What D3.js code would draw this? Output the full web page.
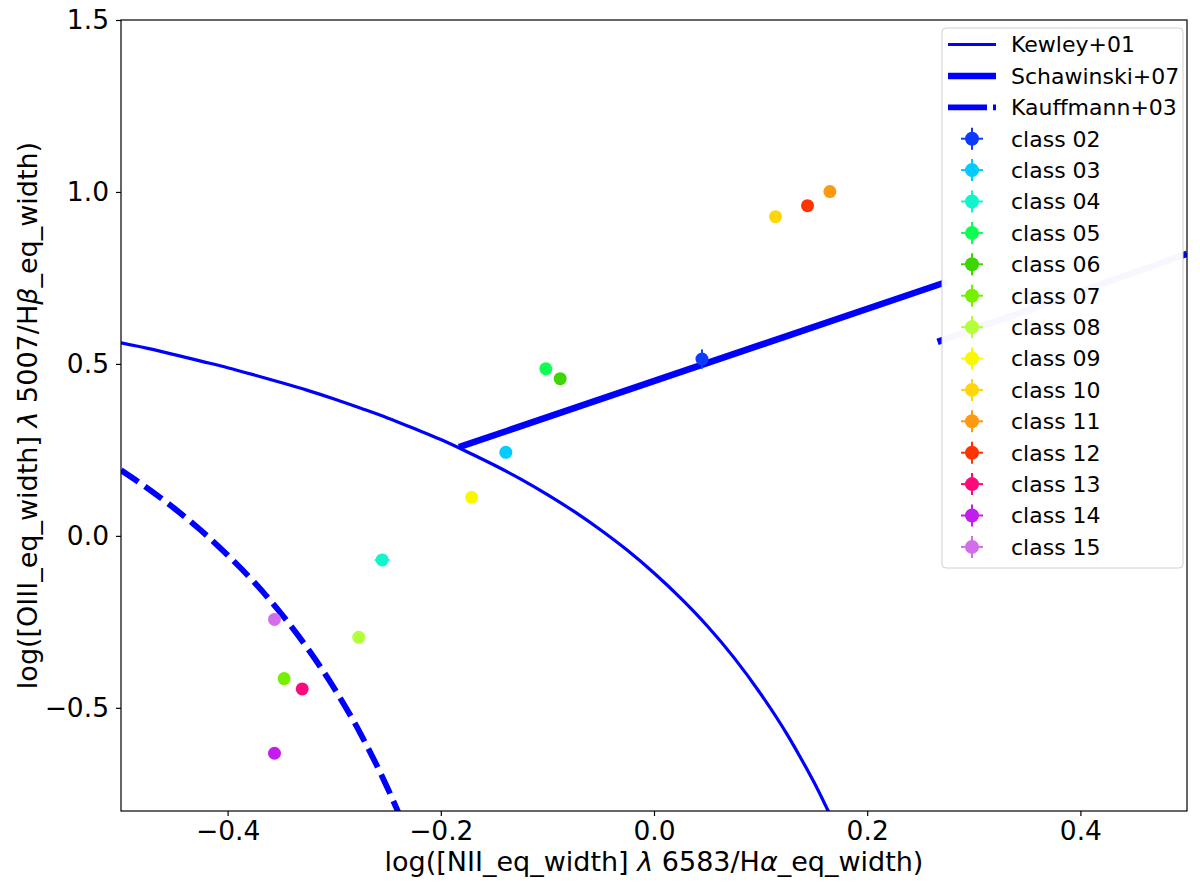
<!DOCTYPE html>
<html>
<head>
<meta charset="utf-8">
<script src="https://cdn.jsdelivr.net/npm/d3@7"></script>
<style>
  body { margin: 0; background: #fff; }
  svg { display: block; font-family: "DejaVu Sans", sans-serif; }
</style>
</head>
<body>
<script>
// point classes
var classNames = ['class 02', 'class 03', 'class 04', 'class 05', 'class 06', 'class 07', 'class 08',
                  'class 09', 'class 10', 'class 11', 'class 12', 'class 13', 'class 14', 'class 15'];
var classColors = ['#0b3bff', '#00ccff', '#10f5cc', '#0dff52', '#3dd600', '#76f000', '#b2ff3a',
                   '#fbf700', '#ffd60a', '#ff9a10', '#ff3300', '#ff0a7a', '#c31cf0', '#d46ceb'];
var classX = [0.045, -0.139, -0.255, -0.1015, -0.088, -0.347, -0.277,
              -0.171, 0.114, 0.165, 0.144, -0.330, -0.356, -0.356];
var classY = [0.514, 0.243, -0.070, 0.486, 0.457, -0.415, -0.295,
              0.112, 0.928, 1.001, 0.960, -0.445, -0.632, -0.243];
var classXErr = [0, 0, 0.007, 0, 0, 0, 0, 0, 0, 0, 0, 0, 0, 0];
var classYErr = [0.028, 0, 0, 0, 0, 0, 0, 0, 0, 0, 0, 0, 0, 0];

// demarcation lines
var kewleyX = [-0.5, -0.475, -0.45, -0.425, -0.4, -0.375, -0.35, -0.325, -0.3, -0.275, -0.25, -0.225,
               -0.2, -0.175, -0.15, -0.125, -0.1, -0.075, -0.05, -0.025, 0.0, 0.025, 0.05, 0.075,
               0.1, 0.125, 0.1375, 0.15, 0.16, 0.165];
var kewleyY = [0.561, 0.545, 0.527, 0.508, 0.489, 0.468, 0.446, 0.423, 0.398, 0.371, 0.343, 0.312,
               0.280, 0.244, 0.206, 0.165, 0.120, 0.071, 0.017, -0.042, -0.108, -0.181, -0.262, -0.354,
               -0.459, -0.578, -0.645, -0.716, -0.778, -0.81];
var schawX = [-0.183, 0.275];
var schawY = [0.258, 0.739];
var kauffX = [-0.5, -0.475, -0.45, -0.425, -0.4, -0.375, -0.35, -0.325, -0.3, -0.275, -0.25, -0.24];
var kauffY = [0.191, 0.138, 0.080, 0.016, -0.056, -0.135, -0.225, -0.327, -0.443, -0.577, -0.733, -0.803];
// short segment seen at the legend edges
var hiddenX = [0.266, 0.5];
var hiddenY = [0.564, 0.82];

var xTicks = [-0.4, -0.2, 0.0, 0.2, 0.4];
var yTicks = [-0.5, 0.0, 0.5, 1.0, 1.5];

(function(){
'use strict';

var W = 1200, H = 888;
var mLeft = 121, mRight = 1187, mTop = 20, mBottom = 811;

var svg = d3.select('body').append('svg')
            .attr('width', W)
            .attr('height', H);

var x = d3.scaleLinear().domain([-0.5, 0.5]).range([mLeft, mRight]);
var y = d3.scaleLinear().domain([-0.8, 1.5]).range([mBottom, mTop]);

svg.append('clipPath').attr('id', 'clip')
   .append('rect')
   .attr('x', mLeft).attr('y', mTop)
   .attr('width', mRight - mLeft).attr('height', mBottom - mTop);

var plot = svg.append('g').attr('clip-path', 'url(#clip)');

function pairs(xs, ys){
	return xs.map(function(v, i){ return [v, ys[i]]; });
}

var line = d3.line()
             .curve(d3.curveMonotoneX)
             .x(function(d){ return x(d[0]); })
             .y(function(d){ return y(d[1]); });

plot.append('path')
    .attr('d', line(pairs(hiddenX, hiddenY)))
    .attr('fill', 'none').attr('stroke', '#0000ff').attr('stroke-width', 6.5);

plot.append('path')
    .attr('d', line(pairs(kewleyX, kewleyY)))
    .attr('fill', 'none').attr('stroke', '#0000ff').attr('stroke-width', 3.2);

plot.append('path')
    .attr('d', line(pairs(schawX, schawY)))
    .attr('fill', 'none').attr('stroke', '#0000ff').attr('stroke-width', 6.5);

plot.append('path')
    .attr('d', line(pairs(kauffX, kauffY)))
    .attr('fill', 'none').attr('stroke', '#0000ff').attr('stroke-width', 5.8)
    .attr('stroke-dasharray', '21,8');

// points with error bars
var pts = plot.selectAll('g.pt')
              .data(classNames.map(function(n, i){
	              return {name: n, color: classColors[i], x: classX[i], y: classY[i], xe: classXErr[i], ye: classYErr[i]};
              }))
              .enter().append('g').attr('class', 'pt');

pts.append('line')
   .attr('x1', function(d){ return x(d.x - d.xe); })
   .attr('x2', function(d){ return x(d.x + d.xe); })
   .attr('y1', function(d){ return y(d.y); })
   .attr('y2', function(d){ return y(d.y); })
   .attr('stroke', function(d){ return d.color; }).attr('stroke-width', 2);
pts.append('line')
   .attr('x1', function(d){ return x(d.x); })
   .attr('x2', function(d){ return x(d.x); })
   .attr('y1', function(d){ return y(d.y - d.ye); })
   .attr('y2', function(d){ return y(d.y + d.ye); })
   .attr('stroke', function(d){ return d.color; }).attr('stroke-width', 2);
pts.append('circle')
   .attr('cx', function(d){ return x(d.x); })
   .attr('cy', function(d){ return y(d.y); })
   .attr('r', 6.5)
   .attr('fill', function(d){ return d.color; });

// axes
var fmt = d3.format('.1f');
var xAxis = svg.append('g')
               .attr('transform', 'translate(0,' + mBottom + ')')
               .call(d3.axisBottom(x).tickValues(xTicks).tickFormat(fmt).tickSize(5).tickPadding(5));
var yAxis = svg.append('g')
               .attr('transform', 'translate(' + mLeft + ',0)')
               .call(d3.axisLeft(y).tickValues(yTicks).tickFormat(fmt).tickSize(5).tickPadding(7));

[xAxis, yAxis].forEach(function(a){
	a.select('.domain').remove();
	a.selectAll('line').attr('stroke', '#000').attr('stroke-width', 1.2);
	a.selectAll('text').attr('font-size', 26.5).attr('fill', '#000')
	 .attr('font-family', '"DejaVu Sans", sans-serif');
});

svg.append('rect')
   .attr('x', mLeft).attr('y', mTop)
   .attr('width', mRight - mLeft).attr('height', mBottom - mTop)
   .attr('fill', 'none').attr('stroke', '#000').attr('stroke-width', 1.2);

// axis labels
var xl = svg.append('text')
            .attr('x', (mLeft + mRight) / 2).attr('y', 871)
            .attr('text-anchor', 'middle').attr('font-size', 27);
xl.append('tspan').text('log([NII_eq_width] ');
xl.append('tspan').attr('font-style', 'italic').text('λ');
xl.append('tspan').text(' 6583/H');
xl.append('tspan').attr('font-style', 'italic').text('α');
xl.append('tspan').text('_eq_width)');

var yl = svg.append('text')
            .attr('transform', 'translate(37,' + (mTop + mBottom) / 2 + ') rotate(-90)')
            .attr('text-anchor', 'middle').attr('font-size', 27);
yl.append('tspan').text('log([OIII_eq_width] ');
yl.append('tspan').attr('font-style', 'italic').text('λ');
yl.append('tspan').text(' 5007/H');
yl.append('tspan').attr('font-style', 'italic').text('β');
yl.append('tspan').text('_eq_width)');

// legend
var lg = svg.append('g');
lg.append('rect')
  .attr('x', 942).attr('y', 28).attr('width', 241).attr('height', 540)
  .attr('rx', 4).attr('fill', '#fff').attr('fill-opacity', 0.97)
  .attr('stroke', '#d0d0d0').attr('stroke-width', 1);

var rowY0 = 44.5, rowStep = 31.4;
var lineEntries = [
	{label: 'Kewley+01', w: 3.2, dash: null},
	{label: 'Schawinski+07', w: 6.5, dash: null},
	{label: 'Kauffmann+03', w: 5.8, dash: '39,6,5'}
];
lineEntries.forEach(function(e, i){
	var yy = rowY0 + i * rowStep;
	lg.append('line')
	  .attr('x1', 948).attr('x2', 996).attr('y1', yy).attr('y2', yy)
	  .attr('stroke', '#0000ff').attr('stroke-width', e.w)
	  .attr('stroke-dasharray', e.dash);
	lg.append('text')
	  .attr('x', 1011).attr('y', yy).attr('dy', '0.36em')
	  .attr('font-size', 22).text(e.label);
});
classNames.forEach(function(n, i){
	var yy = rowY0 + (i + 3) * rowStep;
	var c = classColors[i];
	lg.append('line').attr('x1', 961).attr('x2', 983).attr('y1', yy).attr('y2', yy)
	  .attr('stroke', c).attr('stroke-width', 2);
	lg.append('line').attr('x1', 972).attr('x2', 972).attr('y1', yy - 11).attr('y2', yy + 11)
	  .attr('stroke', c).attr('stroke-width', 2);
	lg.append('circle').attr('cx', 972).attr('cy', yy).attr('r', 7).attr('fill', c);
	lg.append('text')
	  .attr('x', 1011).attr('y', yy).attr('dy', '0.36em')
	  .attr('font-size', 22).text(n);
});

})();
</script>
</body>
</html>
